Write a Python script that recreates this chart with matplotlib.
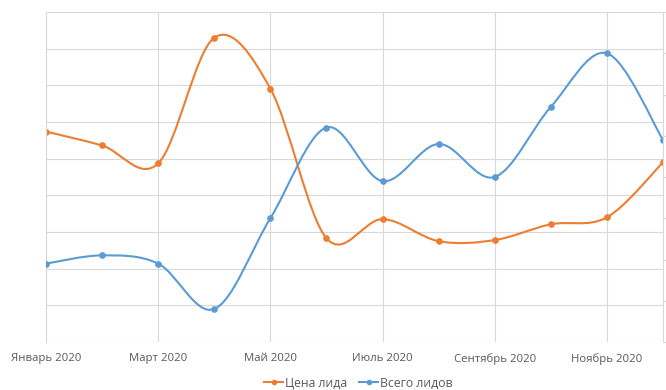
import numpy as np
import matplotlib.pyplot as plt
from matplotlib.path import Path
from matplotlib.patches import PathPatch
from matplotlib.lines import Line2D

plt.rcParams['font.family'] = ['Open Sans', 'DejaVu Sans']

months = ["Январь 2020", "Февраль 2020", "Март 2020", "Апрель 2020", "Май 2020",
          "Июнь 2020", "Июль 2020", "Август 2020", "Сентябрь 2020", "Октябрь 2020",
          "Ноябрь 2020", "Декабрь 2020"]
lead_price = [574, 536, 487, 830, 691, 283, 335, 275, 278, 321, 340, 490]
lead_count = [19, 21, 19, 8, 30, 52, 39, 48, 40, 57, 70, 49]

ORANGE = "#ED7D31"
BLUE = "#5B9BD5"
GRID = "#D9D9D9"
TEXT = "#595959"


def smooth_path(x, y):
    # Catmull-Rom style smoothing as cubic Bezier segments
    x = np.asarray(x, float)
    y = np.asarray(y, float)
    pts = np.column_stack([x, y])
    verts = [pts[0]]
    codes = [Path.MOVETO]
    n = len(pts)
    for i in range(n - 1):
        p0 = pts[max(i - 1, 0)]
        p1 = pts[i]
        p2 = pts[i + 1]
        p3 = pts[min(i + 2, n - 1)]
        c1 = p1 + (p2 - p0) / 6.0
        c2 = p2 - (p3 - p1) / 6.0
        verts += [c1, c2, p2]
        codes += [Path.CURVE4] * 3
    return Path(verts, codes)


fig = plt.figure(figsize=(6.66, 3.9), dpi=100)
ax = fig.add_axes([46 / 666, 48 / 390, 617 / 666, 330 / 390])
ax2 = ax.twinx()

x = np.arange(len(months))

ax.set_xlim(0, len(months) - 1)
ax.set_ylim(0, 900)
ax.set_yticks(np.arange(0, 901, 100))
ax.grid(True, color=GRID, linewidth=0.8)
ax.set_axisbelow(True)
ax.set_xticks(x[::2])
ax.set_xticklabels(months[::2], fontsize=8.2, color=TEXT)
ax.tick_params(axis="x", length=0, pad=8)
ax.tick_params(axis="y", length=0, labelleft=False)
for s in ["top", "right", "bottom"]:
    ax.spines[s].set_visible(False)
ax.spines["left"].set_color(GRID)
ax.spines["left"].set_linewidth(0.8)

ax2.set_ylim(0, 80)
ax2.set_yticks(np.arange(0, 81, 10))
ax2.tick_params(axis="y", length=4, color=GRID, labelright=False)
for s in ["top", "left", "bottom"]:
    ax2.spines[s].set_visible(False)
ax2.spines["right"].set_color(GRID)
ax2.spines["right"].set_linewidth(0.8)

ax.add_patch(PathPatch(smooth_path(x, lead_price), facecolor="none",
                       edgecolor=ORANGE, linewidth=1.5))
ax.plot(x, lead_price, linestyle="none", marker="o", markersize=3.8, color=ORANGE)

ax2.add_patch(PathPatch(smooth_path(x, lead_count), facecolor="none",
                        edgecolor=BLUE, linewidth=1.5))
ax2.plot(x, lead_count, linestyle="none", marker="o", markersize=3.8, color=BLUE)

handles = [
    Line2D([], [], color=ORANGE, marker="o", markersize=3, linewidth=1.5),
    Line2D([], [], color=BLUE, marker="o", markersize=3, linewidth=1.5),
]
fig.legend(handles, ["Цена лида", "Всего лидов"], loc="center",
           bbox_to_anchor=(358 / 666, 1 - 383 / 390), ncol=2, frameon=False,
           fontsize=8.8, labelcolor=TEXT, handlelength=1.6, handletextpad=0.1,
           columnspacing=1.0, borderaxespad=0)

fig.savefig("out.png", dpi=100)
